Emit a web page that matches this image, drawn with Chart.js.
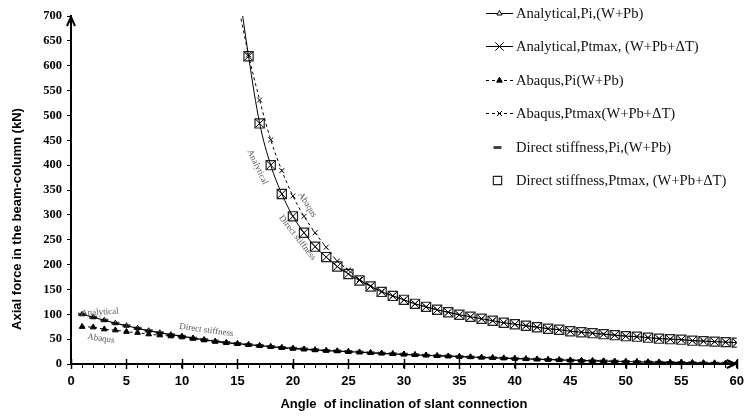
<!DOCTYPE html>
<html>
<head>
<meta charset="utf-8">
<script src="https://cdn.jsdelivr.net/npm/chart.js@4.4.0/dist/chart.umd.min.js"></script>
<style>
  html, body { margin:0; padding:0; background:#fff; }
  #wrap { position:relative; width:750px; height:416px; }
  #legend { position:absolute; left:460px; top:0; width:290px; height:200px;
            font-family:'Liberation Serif','Times New Roman',serif; font-size:14.6px; color:#111; }
  .row { position:absolute; left:0; height:18px; line-height:18px; white-space:nowrap; }
  .row canvas { position:absolute; left:20px; top:1px; }
  .row span { position:absolute; left:56px; top:0; }
</style>
</head>
<body>
<div id="wrap">
  <canvas id="chart" width="750" height="416"></canvas>
  <div id="legend"></div>
</div>
<script>
// angles (deg)
var anglesPi = [1,2,3,4,5,6,7,8,9,10,11,12,13,14,15,16,17,18,19,20,21,22,23,24,25,26,27,28,29,30,
                31,32,33,34,35,36,37,38,39,40,41,42,43,44,45,46,47,48,49,50,51,52,53,54,55,56,57,58,59,60];
var anglesPt = [15,16,17,18,19,20,21,22,23,24,25,26,27,28,29,30,31,32,33,34,35,36,37,38,39,40,
                41,42,43,44,45,46,47,48,49,50,51,52,53,54,55,56,57,58,59,60];
var anglesDsPt = [16,17,18,19,20,21,22,23,24,25,26,27,28,29,30,31,32,33,34,35,36,37,38,39,40,
                  41,42,43,44,45,46,47,48,49,50,51,52,53,54,55,56,57,58,59,60];

// axial force (kN)
var analyticalPi = [100,94,88,82,77,72,67,63,59,56,52,49,46,43,41,39,37,35,33,31.5,30,28.5,27,26,25,24,22.5,21.5,20.5,19.5,
                    18.5,17.5,16.5,16,15,14,13.3,12.5,11.8,11,10.3,9.6,9,8.3,7.7,7.1,6.5,6,5.5,5,4.5,4,3.6,3.2,2.8,2.4,2,1.7,1.4,1];
var abaqusPi = [75,74,70,68,65,63,60,58,56,54,51,48,45,42.5,40.5,38.5,36.5,34.5,32.5,31,29.5,28,27,26,24.5,23.5,22.5,21.5,20.5,19.5,
                18.5,17.5,16.5,15.5,14.8,14,13.2,12.4,11.7,11,10.2,9.5,8.8,8.2,7.6,7,6.4,5.9,5.4,4.9,4.4,4,3.6,3.2,2.8,2.4,2.1,1.8,1.5,1.2];
var directPi = [100,94,88,82,77,72,67,63,59,56,52,49,46,43,41,39,37,35,33,31.5,30,28.5,27,26,25,24,22.5,21.5,20.5,19.5,
                18.5,17.5,16.5,16,15,14,13.3,12.5,11.8,11,10.3,9.6,9,8.3,7.7,7.1,6.5,6,5.5,5,4.5,4,3.6,3.2,2.8,2.4,2,1.7,1.4,1];
var analyticalPt = [775,619,484,400,342,297,264,236,215,196,181,168,156,145,137,129,121,115,109,104,99,95,91,87,83,80,
                    77,74,71,69,66,64,62,60,58,56,55,53,51,50,49,47,46,45,44,43];
var abaqusPt = [730,622,531,451,389,338,297,264,235,207,189,170,157,146,137,129,121,115,109,104,99,95,91,87,83,80,
                77,74,71,69,66,64,62,60,58,56,55,53,51,50,49,47,46,45,44,43];
var directPt = [619,484,400,342,297,264,236,215,196,181,168,156,145,137,129,121,115,109,104,99,95,91,87,83,80,
                77,74,71,69,66,64,62,60,58,56,55,53,51,50,49,47,46,45,44,43];

var legendNames = ['Analytical,Pi,(W+Pb)', 'Analytical,Ptmax, (W+Pb+\u0394T)', 'Abaqus,Pi(W+Pb)',
                   'Abaqus,Ptmax(W+Pb+\u0394T)', 'Direct stiffness,Pi,(W+Pb)', 'Direct stiffness,Ptmax, (W+Pb+\u0394T)'];

function pts(xs, ys){
  return xs.map(function(a, i){ return {x: a, y: ys[i]}; });
}

var datasets = [
  {label: legendNames[0], data: pts(anglesPi, analyticalPi), borderColor:'#000', borderWidth:1.2,
   pointStyle:'triangle', pointRadius:3, pointBackgroundColor:'rgba(255,255,255,0)', pointBorderColor:'#000', pointBorderWidth:1,
   cubicInterpolationMode:'monotone'},
  {label: legendNames[1], data: pts(anglesPt, analyticalPt), borderColor:'#000', borderWidth:1,
   pointStyle:'crossRot', pointRadius:6, pointBorderColor:'#000', pointBorderWidth:1,
   cubicInterpolationMode:'monotone'},
  {label: legendNames[2], data: pts(anglesPi, abaqusPi), borderColor:'#000', borderWidth:1, borderDash:[3,3],
   pointStyle:'triangle', pointRadius:3.3, pointBackgroundColor:'#000', pointBorderColor:'#000', pointBorderWidth:1,
   cubicInterpolationMode:'monotone'},
  {label: legendNames[3], data: pts(anglesPt, abaqusPt), borderColor:'#000', borderWidth:1, borderDash:[3,3],
   pointStyle:'crossRot', pointRadius:3.5, pointBorderColor:'#000', pointBorderWidth:1,
   cubicInterpolationMode:'monotone'},
  {label: legendNames[4], data: pts(anglesPi, directPi), showLine:false,
   pointStyle:'line', pointRadius:4, pointBorderColor:'#444', pointBorderWidth:3},
  {label: legendNames[5], data: pts(anglesDsPt, directPt), showLine:false,
   pointStyle:'rect', pointRadius:6.5, pointBorderColor:'#222', pointBackgroundColor:'#fff', pointBorderWidth:1.2}
];

// little text notes on the curves
var notes = [
  {text:'Analytical', x:16.8, y:396, rot:65},
  {text:'Abaqus', x:21.3, y:320, rot:58},
  {text:'Direct stiffness', x:20.4, y:254, rot:52},
  {text:'Analytical', x:2.6, y:104, rot:-3},
  {text:'Abaqus', x:2.7, y:51, rot:8},
  {text:'Direct stiffness', x:12.2, y:68, rot:8}
];

var extras = {
  id: 'extras',
  afterDraw: function(chart){
    var ctx = chart.ctx, xs = chart.scales.x, ys = chart.scales.y, ca = chart.chartArea;
    ctx.save();
    ctx.strokeStyle = '#000';
    ctx.lineWidth = 1.5;
    // major ticks crossing the x axis
    xs.ticks.forEach(function(t){
      if (t.value % 5 === 0) {
        var px = Math.round(xs.getPixelForValue(t.value)) + 0.5;
        ctx.beginPath(); ctx.moveTo(px, ca.bottom - 5); ctx.lineTo(px, ca.bottom + 5); ctx.stroke();
      }
    });
    // arrows
    ctx.lineWidth = 2;
    ctx.beginPath();
    ctx.moveTo(ca.left - 4, ca.top + 10); ctx.lineTo(ca.left, ca.top + 1); ctx.lineTo(ca.left + 4, ca.top + 10);
    ctx.stroke();
    ctx.beginPath();
    ctx.moveTo(ca.right - 10, ca.bottom - 4); ctx.lineTo(ca.right - 1, ca.bottom); ctx.lineTo(ca.right - 10, ca.bottom + 4);
    ctx.stroke();
    // y title
    ctx.fillStyle = '#000';
    ctx.font = 'bold 13px "Liberation Sans", Arial, sans-serif';
    ctx.textAlign = 'center'; ctx.textBaseline = 'middle';
    ctx.translate(17, 219); ctx.rotate(-Math.PI / 2);
    ctx.fillText('Axial force in the beam-column (kN)', 0, 0);
    ctx.setTransform(1, 0, 0, 1, 0, 0);
    // notes
    ctx.fillStyle = '#555';
    ctx.font = '9px "Liberation Serif", "Times New Roman", serif';
    notes.forEach(function(n){
      ctx.save();
      ctx.translate(xs.getPixelForValue(n.x), ys.getPixelForValue(n.y));
      ctx.rotate(n.rot * Math.PI / 180);
      ctx.fillText(n.text, 0, 0);
      ctx.restore();
    });
    ctx.restore();
  }
};

var chart = new Chart(document.getElementById('chart'), {
  type: 'line',
  data: {datasets: datasets},
  options: {
    responsive: false,
    animation: false,
    devicePixelRatio: 1,
    layout: {padding: {top:16, right:5, left:0, bottom:0}, autoPadding:false},
    plugins: {legend: {display:false}, tooltip: {enabled:false}},
    scales: {
      x: {
        type: 'linear', min: 0, max: 60,
        afterFit: function(s){ s.height = 52; },
        border: {display:true, color:'#000', width:2},
        grid: {drawOnChartArea:false, tickLength:4, tickColor:'#000', tickWidth:1},
        ticks: {stepSize:1, autoSkip:false, maxRotation:0, padding:6, color:'#000',
                font: {family:'"Liberation Sans", Arial, sans-serif', size:13, weight:'bold'},
                callback: function(v){ return v % 5 === 0 ? v : ''; }},
        title: {display:true, text:'Angle  of inclination of slant connection', color:'#000',
                padding:{top:0, bottom:4},
                font: {family:'"Liberation Sans", Arial, sans-serif', size:13, weight:'bold'}}
      },
      y: {
        min: 0, max: 700,
        afterFit: function(s){ s.width = 71; },
        border: {display:true, color:'#000', width:2},
        grid: {drawOnChartArea:false, tickLength:4, tickColor:'#000', tickWidth:1},
        ticks: {stepSize:50, padding:5, color:'#000',
                font: {family:'"Liberation Serif", "Times New Roman", serif', size:12.5, weight:'bold'}}
      }
    }
  },
  plugins: [extras]
});

// legend with line + marker samples
var legendTop = [13, 46, 80, 113, 147, 180];
var legendEl = document.getElementById('legend');
datasets.forEach(function(ds, i){
  var row = document.createElement('div');
  row.className = 'row';
  row.style.top = (legendTop[i] - 9) + 'px';
  var c = document.createElement('canvas');
  c.width = 40; c.height = 16;
  var g = c.getContext('2d');
  if (ds.showLine !== false) {
    g.strokeStyle = '#000'; g.lineWidth = 1;
    g.setLineDash(ds.borderDash || []);
    g.beginPath(); g.moveTo(6, 8.5); g.lineTo(33, 8.5); g.stroke();
    g.setLineDash([]);
  }
  g.fillStyle = ds.pointBackgroundColor === 'rgba(255,255,255,0)' ? '#fff' : (ds.pointBackgroundColor || '#fff');
  g.strokeStyle = ds.pointBorderColor || '#000';
  g.lineWidth = ds.pointBorderWidth;
  var cx = ds.showLine === false ? 17.5 : 19.5;
  Chart.helpers.drawPoint(g, {pointStyle: ds.pointStyle, radius: ds.pointRadius * (ds.pointStyle === 'rect' ? 0.9 : 1),
                              rotation: 0, borderWidth: ds.pointBorderWidth}, cx, 8.5);
  row.appendChild(c);
  var s = document.createElement('span');
  s.textContent = ds.label;
  row.appendChild(s);
  legendEl.appendChild(row);
});
</script>
</body>
</html>
